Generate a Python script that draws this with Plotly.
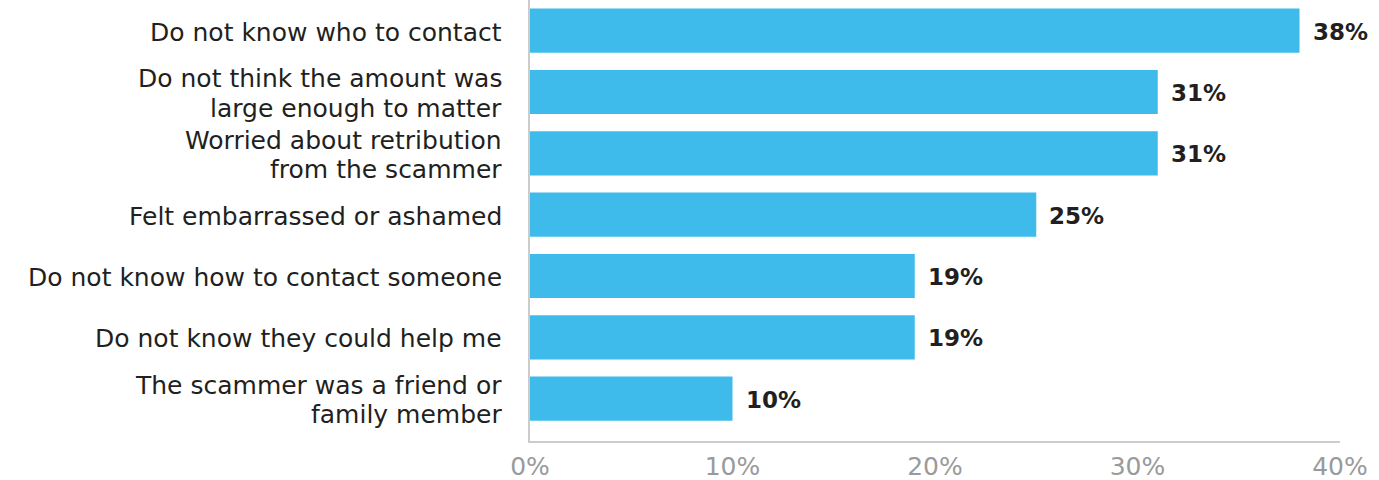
import plotly.graph_objects as go

# Reasons for not reporting a scam (share of respondents, %)
categories = [
    "Do not know who to contact",
    "Do not think the amount was<br>large enough to matter",
    "Worried about retribution<br>from the scammer",
    "Felt embarrassed or ashamed",
    "Do not know how to contact someone",
    "Do not know they could help me",
    "The scammer was a friend or<br>family member",
]
values = [38, 31, 31, 25, 19, 19, 10]
tick_vals = [0, 10, 20, 30, 40]
tick_text = ["0%", "10%", "20%", "30%", "40%"]

FONT = "DejaVu Sans"
BAR_COLOR = "#3EBBEA"
TEXT_COLOR = "#231F20"

fig = go.Figure(
    go.Bar(
        x=values,
        y=categories,
        orientation="h",
        marker=dict(color=BAR_COLOR, line=dict(width=0)),
        width=0.72,
        hoverinfo="skip",
    )
)

annotations = []
# value labels to the right of each bar
for cat, v in zip(categories, values):
    annotations.append(dict(
        x=v, y=cat, xref="x", yref="y",
        text=f"<b>{v}%</b>", showarrow=False,
        xanchor="left", yanchor="middle", xshift=11, yshift=-1,
        font=dict(family=FONT, size=23, color=TEXT_COLOR),
    ))
# category labels, one annotation per line for tighter line spacing
LABEL_SIZE = 25
LINE_H = 29.5
for cat in categories:
    lines = cat.split("<br>")
    n = len(lines)
    for j, line in enumerate(lines):
        annotations.append(dict(
            x=0, y=cat, xref="paper", yref="y",
            text=line, showarrow=False,
            xanchor="right", yanchor="middle", xshift=-26,
            yshift=((n - 1) / 2 - j) * LINE_H - 1.5,
            font=dict(family=FONT, size=LABEL_SIZE, color=TEXT_COLOR),
        ))

fig.update_layout(
    width=1379, height=480,
    margin=dict(l=530, r=39, t=0, b=39),
    paper_bgcolor="white", plot_bgcolor="white",
    showlegend=False,
    annotations=annotations,
    xaxis=dict(
        range=[0, 40], tickvals=tick_vals, ticktext=tick_text,
        showgrid=False, zeroline=False, automargin=False,
        showline=True, linecolor="#CCCCCC", linewidth=2,
        ticks="", ticklabelstandoff=2,
        tickfont=dict(family=FONT, size=25, color="#9A9A9A"),
        fixedrange=True,
    ),
    yaxis=dict(
        categoryorder="array", categoryarray=categories,
        range=[6.69, -0.5], automargin=False,
        showticklabels=False, showgrid=False, zeroline=False,
        showline=True, linecolor="#CCCCCC", linewidth=2,
        ticks="", fixedrange=True,
    ),
)

fig.write_html("out.html")
